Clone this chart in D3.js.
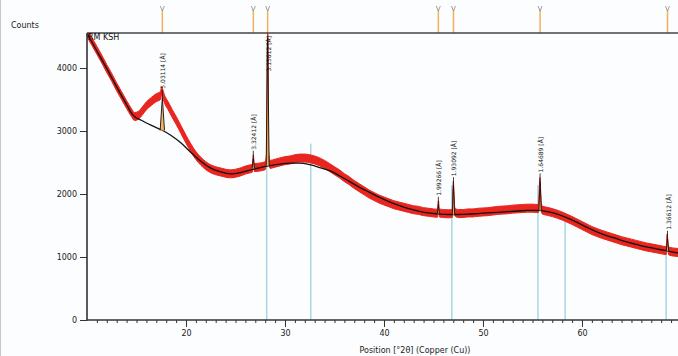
<!DOCTYPE html>
<html>
<head>
<meta charset="utf-8">
<script src="https://cdn.jsdelivr.net/npm/d3@7"></script>
<style>
  html, body { margin: 0; padding: 0; background: #fbfdfe; }
  svg { display: block; font-family: "DejaVu Sans", sans-serif; }
</style>
</head>
<body>
<svg id="chart" width="678" height="356"></svg>
<script>
const measuredTheta = [10.0, 10.5, 11.0, 11.5, 12.0, 12.5, 13.0, 13.5, 14.0, 14.5, 14.8, 15.2, 15.6, 16.0, 16.5, 17.0, 17.4, 17.55, 17.65, 17.8, 18.2, 18.6, 19.0, 19.5, 20.0, 20.5, 21.0, 21.5, 22.0, 22.5, 23.0, 23.5, 24.0, 24.5, 25.0, 25.5, 26.0, 26.5, 26.7, 26.8, 26.9, 27.5, 28.0, 28.15, 28.25, 28.35, 28.5, 29.0, 29.5, 30.0, 30.5, 31.0, 31.5, 32.0, 32.5, 33.0, 33.5, 34.0, 34.5, 35.0, 35.5, 36.0, 36.5, 37.0, 37.5, 38.0, 38.5, 39.0, 39.5, 40.0, 40.5, 41.0, 41.5, 42.0, 42.5, 43.0, 43.5, 44.0, 44.5, 45.0, 45.4, 45.5, 45.6, 46.0, 46.5, 46.9, 47.0, 47.15, 47.5, 48.0, 48.5, 49.0, 49.5, 50.0, 50.5, 51.0, 51.5, 52.0, 52.5, 53.0, 53.5, 54.0, 54.5, 55.0, 55.6, 55.75, 55.9, 56.0, 56.5, 57.0, 57.5, 58.0, 58.5, 59.0, 59.5, 60.0, 60.5, 61.0, 61.5, 62.0, 62.5, 63.0, 63.5, 64.0, 64.5, 65.0, 65.5, 66.0, 66.5, 67.0, 67.5, 68.0, 68.5, 68.6, 68.75, 69.0, 69.5, 70.0];
const measuredCounts = [4560, 4420, 4280, 4140, 3990, 3850, 3700, 3560, 3420, 3290, 3230, 3250, 3320, 3400, 3470, 3530, 3560, 3640, 3600, 3520, 3400, 3280, 3170, 3020, 2870, 2730, 2610, 2520, 2450, 2400, 2370, 2350, 2330, 2320, 2330, 2350, 2380, 2400, 2410, 2560, 2420, 2430, 2450, 2600, 4600, 2600, 2470, 2490, 2510, 2530, 2540, 2560, 2570, 2570, 2560, 2540, 2510, 2470, 2420, 2370, 2320, 2260, 2210, 2150, 2100, 2050, 2000, 1960, 1920, 1890, 1860, 1830, 1810, 1790, 1770, 1750, 1740, 1720, 1710, 1700, 1695, 1830, 1700, 1690, 1685, 1690, 2140, 1720, 1690, 1690, 1700, 1700, 1710, 1715, 1720, 1730, 1740, 1745, 1750, 1760, 1765, 1770, 1775, 1775, 1770, 2200, 1780, 1745, 1725, 1705, 1680, 1650, 1615, 1580, 1540, 1500, 1460, 1420, 1390, 1360, 1335, 1310, 1285, 1260, 1240, 1220, 1200, 1180, 1160, 1145, 1130, 1115, 1100, 1300, 1100, 1085, 1075, 1065];

// fitted background
const bgTheta = [10, 11, 12, 13, 14, 14.6, 15.5, 16.5, 17.5, 18.5, 19.5, 20.5, 21.5, 22.5, 23.5, 24.5, 25.5, 26.5, 27.5, 28.5, 29.5, 30.5, 31.5, 32.5, 33.5, 34.5, 35.5, 36.5, 37.5, 38.5, 39.5, 40.5, 41.5, 42.5, 43.5, 44.5, 45.5, 46.5, 47.5, 48.5, 49.5, 50.5, 51.5, 52.5, 53.5, 54.5, 55.5, 56.5, 57.5, 58.5, 59.5, 60.5, 61.5, 62.5, 63.5, 64.5, 65.5, 66.5, 67.5, 68.5, 69.5, 70];
const bgCounts = [4550, 4270, 3990, 3700, 3420, 3260, 3170, 3090, 3020, 2930, 2810, 2660, 2520, 2410, 2350, 2320, 2340, 2380, 2420, 2450, 2475, 2490, 2490, 2465, 2420, 2370, 2290, 2200, 2110, 2030, 1950, 1880, 1820, 1770, 1730, 1700, 1685, 1675, 1675, 1680, 1690, 1700, 1710, 1720, 1730, 1740, 1740, 1720, 1680, 1620, 1550, 1470, 1400, 1340, 1290, 1240, 1200, 1160, 1130, 1100, 1070, 1060];

// identified peaks
const peakPos = [17.61, 26.80, 28.25, 45.49, 47.02, 55.77, 68.64];
const peakD = ["5.03114", "3.32412", "3.15612", "1.99266", "1.93092", "1.64689", "1.36612"];
const peakTop = [3530, 2560, 4480, 1830, 2140, 2200, 1290];
const peakBase = [3010, 2410, 2450, 1690, 1670, 1740, 1100];
const peakHalfWidth = [0.22, 0.12, 0.15, 0.1, 0.12, 0.12, 0.12];

// reference pattern sticks
const refPos = [28.15, 32.6, 46.85, 55.55, 58.3, 68.5];
const refCounts = [4400, 2800, 2140, 2140, 1650, 1150];

const yTicks = [0, 1000, 2000, 3000, 4000];
const xTicks = [20, 30, 40, 50, 60];

const svg = d3.select("#chart");
const mLeft = 87, mTop = 33, mBottom = 320, mRight = 678;

const x = d3.scaleLinear().domain([10, 69.7]).range([mLeft, mRight]);
const y = d3.scaleLinear().domain([0, 4556]).range([mBottom, mTop]);

// left frame border
svg.append("line").attr("x1", 0.5).attr("x2", 0.5).attr("y1", 0).attr("y2", 356)
  .attr("stroke", "#c8c8c8").attr("stroke-width", 1);

svg.append("clipPath").attr("id", "plot-clip")
  .append("rect").attr("x", mLeft).attr("y", mTop).attr("width", mRight - mLeft).attr("height", mBottom - mTop);

const plot = svg.append("g").attr("clip-path", "url(#plot-clip)");

// reference sticks
plot.selectAll("line.ref").data(refPos).join("line")
  .attr("class", "ref")
  .attr("x1", d => x(d)).attr("x2", d => x(d))
  .attr("y1", y(0)).attr("y2", (d, i) => y(refCounts[i]))
  .attr("stroke", "#a9d6e5").attr("stroke-width", 1.5);

// measured data: drawn as a vertical noise band around the trace
const measured = measuredTheta.map((t, i) => [t, measuredCounts[i]]);
const line = d3.line().x(d => x(d[0])).y(d => y(d[1]));
plot.append("path").datum(measured)
  .attr("d", d3.area().curve(d3.curveMonotoneX).x(d => x(d[0])).y0(d => y(d[1]) + 4).y1(d => y(d[1]) - 4))
  .attr("fill", "#e8261f").attr("stroke", "#e8261f").attr("stroke-width", 1);

// background
const bg = bgTheta.map((t, i) => [t, bgCounts[i]]);
plot.append("path").datum(bg)
  .attr("d", d3.line().curve(d3.curveMonotoneX).x(d => x(d[0])).y(d => y(d[1])))
  .attr("fill", "none").attr("stroke", "#111").attr("stroke-width", 1.3);

// peak profiles
const peaks = peakPos.map((p, i) => ({ pos: p, d: peakD[i], top: peakTop[i], base: peakBase[i], w: peakHalfWidth[i] }));
plot.selectAll("path.peak").data(peaks).join("path")
  .attr("class", "peak")
  .attr("d", p => line([[p.pos - p.w, p.base], [p.pos, p.top], [p.pos + p.w, p.base]]))
  .attr("fill", "#f2a748").attr("fill-opacity", 0.85)
  .attr("stroke", "#111").attr("stroke-width", 0.9);

// peak labels
const lab = svg.append("g").attr("font-size", 6).attr("fill", "#111");
peaks.forEach(p => {
  const px = x(p.pos), py = y(p.top);
  const t = lab.append("text")
    .attr("text-anchor", "start").attr("dominant-baseline", "central")
    .text(p.d + " [Å]");
  const len = t.node().getComputedTextLength();
  let start = py - 9;
  if (start - len < mTop + 3) start = mTop + 3 + len;
  t.attr("transform", `translate(${px + 0.5},${start}) rotate(-90)`);
  if (py - 9 > mTop + 3 + len) {
    lab.append("line").attr("x1", px).attr("x2", px).attr("y1", py).attr("y2", py - 8)
      .attr("stroke", "#111").attr("stroke-width", 0.8);
  }
});

// top markers
const marks = svg.append("g");
peaks.forEach(p => {
  const px = x(p.pos);
  marks.append("line").attr("x1", px).attr("x2", px).attr("y1", 10).attr("y2", mTop)
    .attr("stroke", "#f0b060").attr("stroke-width", 1.5);
  marks.append("path").attr("d", `M${px - 2},6 L${px},11 L${px + 2},6`)
    .attr("fill", "none").attr("stroke", "#888").attr("stroke-width", 0.8);
});

// axes
const yAxis = svg.append("g").attr("transform", `translate(${mLeft},0)`)
  .call(d3.axisLeft(y).tickValues(yTicks).tickSize(7).tickPadding(3).tickSizeOuter(0).tickFormat(d3.format("d")));
yAxis.select(".domain").remove();
svg.append("line").attr("x1", mLeft).attr("x2", mLeft).attr("y1", mTop).attr("y2", mBottom + 0.5)
  .attr("stroke", "#333").attr("stroke-width", 1.6);

const xMinor = svg.append("g").attr("transform", `translate(0,${mBottom})`)
  .call(d3.axisBottom(x).tickValues(d3.range(11, 70)).tickSize(3).tickFormat(""));
xMinor.select(".domain").remove();
const xAxis = svg.append("g").attr("transform", `translate(0,${mBottom})`)
  .call(d3.axisBottom(x).tickValues(xTicks).tickSize(7).tickPadding(3).tickSizeOuter(0));
xAxis.select(".domain").remove();
svg.append("line").attr("x1", mLeft).attr("x2", mRight).attr("y1", mBottom).attr("y2", mBottom)
  .attr("stroke", "#333").attr("stroke-width", 1.6);
svg.append("line").attr("x1", mLeft).attr("x2", mRight).attr("y1", mTop).attr("y2", mTop)
  .attr("stroke", "#444").attr("stroke-width", 1.6);

svg.selectAll(".tick line").attr("stroke", "#333").attr("stroke-width", 1);
svg.selectAll(".tick text").attr("font-size", 8).attr("font-family", "DejaVu Sans").attr("fill", "#222");

svg.append("text").attr("x", 11).attr("y", 28).attr("font-size", 8).attr("fill", "#222").text("Counts");
svg.append("text").attr("x", 88).attr("y", 40).attr("font-size", 8).attr("fill", "#111").text("RM KSH");
svg.append("text").attr("x", 415).attr("y", 353).attr("text-anchor", "middle")
  .attr("font-size", 8).attr("fill", "#222").text("Position [°2θ] (Copper (Cu))");
</script>
</body>
</html>
